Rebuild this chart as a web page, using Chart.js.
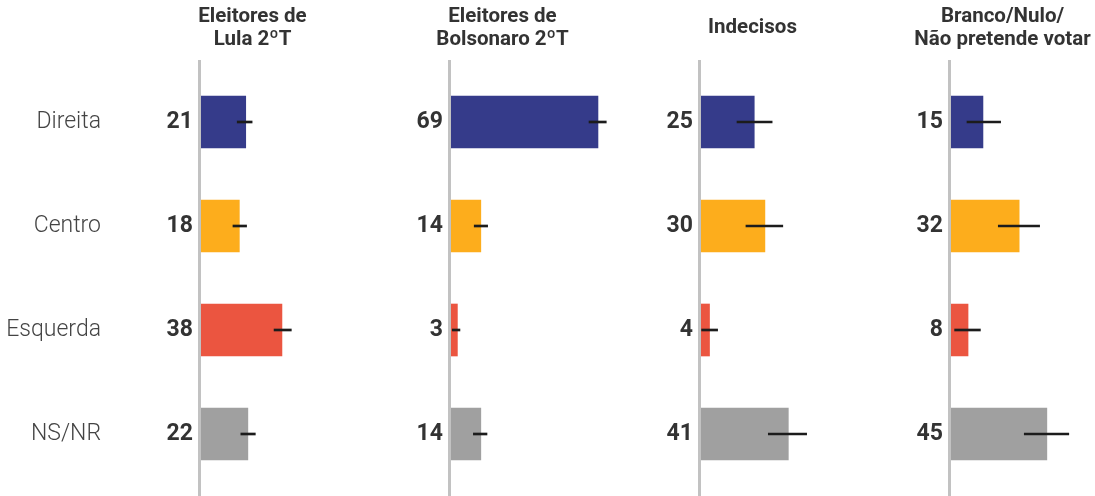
<!DOCTYPE html>
<html>
<head>
<meta charset="utf-8">
<script src="https://cdn.jsdelivr.net/npm/chart.js@4"></script>
<style>
  html, body { margin: 0; padding: 0; background: #fff; overflow: hidden; }
  #wrap { position: relative; width: 1095px; height: 496px; overflow: hidden; }
  #wrap canvas { position: absolute; top: 0; }
</style>
</head>
<body>
<div id="wrap"></div>
<script>
// Dados
const categorias = ['Direita', 'Centro', 'Esquerda', 'NS/NR'];
const cores = ['#353b8a', '#fdad1c', '#eb5540', '#a0a0a0'];

const titulos = [
  ['Eleitores de', 'Lula 2ºT'],
  ['Eleitores de', 'Bolsonaro 2ºT'],
  ['Indecisos'],
  ['Branco/Nulo/', 'Não pretende votar']
];

const lula = [21, 18, 38, 22];
const lulaErro = [[17, 24], [15, 21.4], [34.3, 42.4], [18.7, 25.5]];

const bolsonaro = [69, 14, 3, 14];
const bolsonaroErro = [[64.8, 72.9], [10.9, 17.2], [0.6, 4.2], [10.5, 16.9]];

const indecisos = [25, 30, 4, 41];
const indecisosErro = [[16.9, 33.4], [21.1, 38.4], [0.3, 7.8], [31.6, 49.6]];

const brancoNulo = [15, 32, 8, 45];
const brancoNuloErro = [[7.5, 23.3], [22.2, 41.6], [1.7, 13.8], [34.4, 55.3]];

const valores = [lula, bolsonaro, indecisos, brancoNulo];
const erros = [lulaErro, bolsonaroErro, indecisosErro, brancoNuloErro];

// layout
const zeroX = [201, 451, 701, 951];   // posição do zero de cada painel
const PX_POR_PONTO = 2.13;
const FONTE = 'Roboto, "Liberation Sans", sans-serif';

// linha do eixo (um pouco mais longa que a área do gráfico)
const linhaZero = {
  id: 'linhaZero',
  beforeDatasetsDraw(chart) {
    const ctx = chart.ctx;
    const x = chart.scales.x.getPixelForValue(0) - 1.5;
    ctx.save();
    ctx.strokeStyle = '#c2c2c2';
    ctx.lineWidth = 3;
    ctx.beginPath();
    ctx.moveTo(x, chart.chartArea.top - 10);
    ctx.lineTo(x, chart.chartArea.bottom + 10);
    ctx.stroke();
    ctx.restore();
  }
};

// largura fixa do eixo e sem padding extra em cima/embaixo
function fixarEixo(largura) {
  return (s) => {
    s.width = largura;
    s.paddingTop = 0;
    s.paddingBottom = 0;
  };
}

function criarPainel(p) {
  const primeiro = p === 0;
  const larguraEixo = primeiro ? 200 : 60;
  const largura = 2 * larguraEixo + 103;
  const canvas = document.createElement('canvas');
  canvas.width = largura;
  canvas.height = 496;
  canvas.style.left = (zeroX[p] - larguraEixo) + 'px';
  canvas.style.width = largura + 'px';
  canvas.style.height = '496px';
  document.getElementById('wrap').appendChild(canvas);

  const nLinhas = titulos[p].length;
  const padTitulo = nLinhas === 2 ? { top: 5, bottom: 19 } : { top: 16.5, bottom: 30.5 };

  const scales = {
    x: {
      display: false,
      min: 0,
      max: (largura - larguraEixo) / PX_POR_PONTO
    },
    y: {
      type: 'category',
      position: 'left',
      weight: 0,
      offset: true,
      grid: { display: false, drawTicks: false },
      border: { display: false },
      ticks: {
        padding: 8,
        color: '#333',
        font: { family: FONTE, size: 23, weight: 'bold' },
        callback: (v, i) => String(valores[p][i])
      },
      afterFit: fixarEixo(60)
    }
  };
  if (primeiro) {
    scales.cat = {
      type: 'category',
      position: 'left',
      weight: 1,
      offset: true,
      grid: { display: false, drawTicks: false },
      border: { display: false },
      ticks: {
        padding: 40,
        color: '#444',
        font: { family: FONTE, size: 23, weight: '300' },
        callback: (v, i) => categorias[i]
      },
      afterFit: fixarEixo(140)
    };
  }

  new Chart(canvas, {
    type: 'bar',
    data: {
      labels: categorias,
      datasets: [
        {
          label: 'erro',
          data: erros[p],
          backgroundColor: '#1c1c1c',
          barThickness: 2,
          grouped: false,
          order: 0
        },
        {
          label: 'valor',
          data: valores[p],
          backgroundColor: cores,
          barThickness: 52,
          grouped: false,
          order: 1
        }
      ]
    },
    options: {
      indexAxis: 'y',
      responsive: false,
      animation: false,
      layout: { padding: { top: 0, bottom: 10, left: 0, right: 0 } },
      scales: scales,
      plugins: {
        legend: { display: false },
        tooltip: { enabled: false },
        title: {
          display: true,
          text: titulos[p],
          color: '#333',
          font: { family: FONTE, size: 20.5, weight: 'bold', lineHeight: '23px' },
          padding: padTitulo
        }
      }
    },
    plugins: [linhaZero]
  });
}

for (let p = 0; p < 4; p++) {
  criarPainel(p);
}
</script>
</body>
</html>
